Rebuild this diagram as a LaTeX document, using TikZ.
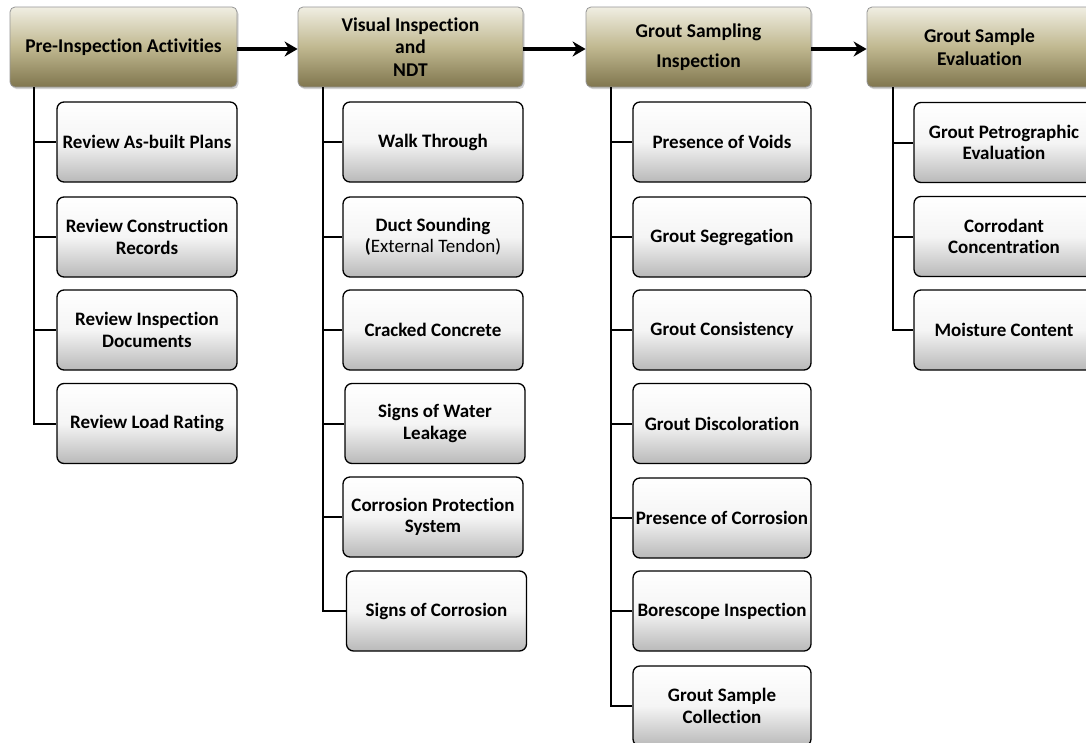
\documentclass[tikz,border=0pt]{standalone}
\usepackage{fontspec}
\setmainfont[Ligatures=NoCommon]{Carlito}
\usetikzlibrary{shadows,arrows.meta}
\definecolor{hTop}{RGB}{240,238,226}
\definecolor{hMid}{RGB}{192,184,144}
\definecolor{hBot}{RGB}{128,118,78}
\definecolor{hEdge}{RGB}{150,150,150}
\definecolor{cBot}{RGB}{185,185,185}
\begin{document}
\begin{tikzpicture}[x=1pt,y=-1pt,
  head/.style={draw=hEdge, line width=0.8pt, rounded corners=5pt, minimum width=225pt, minimum height=80pt, inner sep=0pt,
    top color=hTop, bottom color=hBot, middle color=hMid, align=center,
    font=\bfseries\fontsize{19.5}{22.5}\selectfont,
    drop shadow={shadow xshift=1.5pt, shadow yshift=-2pt, opacity=0.35}},
  child/.style={draw=black, line width=1.3pt, rounded corners=7pt, minimum width=180pt, minimum height=80pt, inner sep=0pt,
    top color=white, bottom color=cBot, middle color=gray!8, align=center,
    font=\bfseries\fontsize{19}{21.5}\selectfont},
  conn/.style={line width=2pt},
  flow/.style={line width=4.5pt, -{Stealth[length=13pt,width=15pt]}}]
\useasboundingbox (0,0) rectangle (1086,742);
\fill[white] (0,0) rectangle (1086,742);

% headers
\node[head, minimum width=227pt] (h1) at (123.5,47) {Pre-Inspection Activities};
\node[head] (h2) at (410.5,47) {Visual Inspection\\and\\NDT};
\node[head] (h3) at (698.5,47) {Grout Sampling\\[8pt]Inspection};
\node[head] (h4) at (979.5,47) {Grout Sample\\Evaluation};

% column 1
\node[child] (c11) at (147,142) {Review As-built Plans};
\node[child] (c12) at (147,237) {Review Construction\\Records};
\node[child] (c13) at (147,330) {Review Inspection\\Documents};
\node[child] (c14) at (147,423.5) {Review Load Rating};

% column 2
\node[child] (c21) at (433,142) {Walk Through};
\node[child] (c22) at (433,237) {Duct Sounding\\(\textmd{External Tendon)}};
\node[child] (c23) at (433,330) {Cracked Concrete};
\node[child] (c24) at (435,423.5) {Signs of Water\\Leakage};
\node[child] (c25) at (433,517) {Corrosion Protection\\System};
\node[child] (c26) at (436.5,611) {Signs of Corrosion};

% column 3
\node[child, minimum width=178pt] (c31) at (722,142) {Presence of Voids};
\node[child, minimum width=178pt] (c32) at (722,237) {Grout Segregation};
\node[child, minimum width=178pt] (c33) at (722,330) {Grout Consistency};
\node[child, minimum width=178pt] (c34) at (722,423.5) {Grout Discoloration};
\node[child, minimum width=178pt] (c35) at (722,518) {Presence of Corrosion};
\node[child, minimum width=178pt] (c36) at (722,611) {Borescope Inspection};
\node[child, minimum width=178pt] (c37) at (722,706) {Grout Sample\\Collection};

% column 4
\node[child] (c41) at (1004,142.5) {Grout Petrographic\\Evaluation};
\node[child] (c42) at (1004,236.5) {Corrodant\\Concentration};
\node[child] (c43) at (1004,330) {Moisture Content};

% trunks
\coordinate (t1) at (34,0);
\coordinate (t2) at (323,0);
\coordinate (t3) at (611,0);
\coordinate (t4) at (893,0);

\foreach \c in {c11,c12,c13,c14} \draw[conn] (t1 |- h1.south) |- (\c.west);
\foreach \c in {c21,c22,c23,c24,c25,c26} \draw[conn] (t2 |- h2.south) |- (\c.west);
\foreach \c in {c31,c32,c33,c34,c35,c36,c37} \draw[conn] (t3 |- h3.south) |- (\c.west);
\foreach \c in {c41,c42,c43} \draw[conn] (t4 |- h4.south) |- (\c.west);

% flow arrows
\draw[flow] ([yshift=-2pt]h1.east) -- ([yshift=-2pt]h2.west);
\draw[flow] ([yshift=-2pt]h2.east) -- ([yshift=-2pt]h3.west);
\draw[flow] ([yshift=-2pt]h3.east) -- ([yshift=-2pt]h4.west);
\end{tikzpicture}
\end{document}
